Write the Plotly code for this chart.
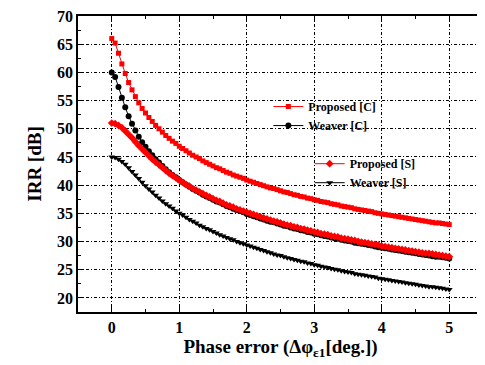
import plotly.graph_objects as go

phase_error = [round(i * 0.05, 2) for i in range(101)]

proposed_c = [66.0, 65.2, 63.4, 61.5, 59.8, 58.2, 56.9, 55.7, 54.6, 53.6,
              52.8, 52.0, 51.3, 50.6, 50.0, 49.4, 48.8, 48.3, 47.8, 47.4,
              46.9, 46.5, 46.1, 45.7, 45.3, 45.0, 44.7, 44.3, 44.0, 43.7,
              43.4, 43.1, 42.9, 42.6, 42.3, 42.1, 41.8, 41.6, 41.4, 41.2,
              40.9, 40.7, 40.5, 40.3, 40.1, 39.9, 39.7, 39.5, 39.4, 39.2,
              39.0, 38.8, 38.7, 38.5, 38.3, 38.2, 38.0, 37.9, 37.7, 37.6,
              37.4, 37.3, 37.1, 37.0, 36.9, 36.7, 36.6, 36.5, 36.3, 36.2,
              36.1, 36.0, 35.8, 35.7, 35.6, 35.5, 35.4, 35.3, 35.1, 35.0,
              34.9, 34.8, 34.7, 34.6, 34.5, 34.4, 34.3, 34.2, 34.1, 34.0,
              33.9, 33.8, 33.7, 33.6, 33.5, 33.4, 33.3, 33.3, 33.2, 33.1,
              33.0]

weaver_c = [60.0, 59.2, 57.4, 55.5, 53.8, 52.2, 50.9, 49.7, 48.6, 47.6,
            46.8, 46.0, 45.3, 44.6, 44.0, 43.4, 42.8, 42.3, 41.8, 41.4,
            40.9, 40.5, 40.1, 39.7, 39.3, 39.0, 38.7, 38.3, 38.0, 37.7,
            37.4, 37.1, 36.9, 36.6, 36.3, 36.1, 35.8, 35.6, 35.4, 35.2,
            34.9, 34.7, 34.5, 34.3, 34.1, 33.9, 33.7, 33.5, 33.4, 33.2,
            33.0, 32.8, 32.7, 32.5, 32.3, 32.2, 32.0, 31.9, 31.7, 31.6,
            31.4, 31.3, 31.1, 31.0, 30.9, 30.7, 30.6, 30.5, 30.3, 30.2,
            30.1, 30.0, 29.8, 29.7, 29.6, 29.5, 29.4, 29.3, 29.1, 29.0,
            28.9, 28.8, 28.7, 28.6, 28.5, 28.4, 28.3, 28.2, 28.1, 28.0,
            27.9, 27.8, 27.7, 27.6, 27.5, 27.4, 27.3, 27.3, 27.2, 27.1,
            27.0]

proposed_s = [51.0, 50.9, 50.6, 50.2, 49.6, 49.0, 48.4, 47.7, 47.0, 46.4,
              45.8, 45.2, 44.6, 44.1, 43.6, 43.1, 42.6, 42.1, 41.7, 41.3,
              40.9, 40.5, 40.1, 39.8, 39.4, 39.1, 38.8, 38.5, 38.2, 37.9,
              37.6, 37.3, 37.1, 36.8, 36.5, 36.3, 36.1, 35.8, 35.6, 35.4,
              35.2, 35.0, 34.8, 34.6, 34.4, 34.2, 34.0, 33.8, 33.6, 33.5,
              33.3, 33.1, 32.9, 32.8, 32.6, 32.5, 32.3, 32.2, 32.0, 31.9,
              31.7, 31.6, 31.4, 31.3, 31.2, 31.0, 30.9, 30.8, 30.6, 30.5,
              30.4, 30.3, 30.2, 30.0, 29.9, 29.8, 29.7, 29.6, 29.5, 29.4,
              29.2, 29.1, 29.0, 28.9, 28.8, 28.7, 28.6, 28.5, 28.4, 28.3,
              28.2, 28.1, 28.0, 27.9, 27.9, 27.8, 27.7, 27.6, 27.5, 27.4,
              27.3]

weaver_s = [45.0, 44.9, 44.6, 44.2, 43.7, 43.1, 42.4, 41.8, 41.2, 40.5,
            39.9, 39.3, 38.8, 38.2, 37.7, 37.2, 36.7, 36.3, 35.9, 35.4,
            35.0, 34.7, 34.3, 33.9, 33.6, 33.3, 32.9, 32.6, 32.3, 32.1,
            31.8, 31.5, 31.2, 31.0, 30.7, 30.5, 30.3, 30.0, 29.8, 29.6,
            29.4, 29.2, 29.0, 28.8, 28.6, 28.4, 28.2, 28.0, 27.8, 27.6,
            27.5, 27.3, 27.1, 27.0, 26.8, 26.7, 26.5, 26.4, 26.2, 26.1,
            25.9, 25.8, 25.6, 25.5, 25.4, 25.2, 25.1, 25.0, 24.8, 24.7,
            24.6, 24.5, 24.3, 24.2, 24.1, 24.0, 23.9, 23.8, 23.7, 23.5,
            23.4, 23.3, 23.2, 23.1, 23.0, 22.9, 22.8, 22.7, 22.6, 22.5,
            22.4, 22.3, 22.2, 22.1, 22.0, 22.0, 21.9, 21.8, 21.7, 21.6,
            21.5]

x_ticks = [0, 1, 2, 3, 4, 5]
y_ticks = [20, 25, 30, 35, 40, 45, 50, 55, 60, 65, 70]

FONT = "Liberation Serif, Times New Roman, serif"
RED = "#ff0000"
BLACK = "#000000"

fig = go.Figure()
fig.add_trace(go.Scatter(
    x=phase_error, y=proposed_c, name="<b>Proposed [C]</b>", mode="lines+markers",
    line=dict(color=RED, width=1), marker=dict(symbol="square", size=5, color=RED),
    legend="legend"))
fig.add_trace(go.Scatter(
    x=phase_error, y=weaver_c, name="<b>Weaver [C]</b>", mode="lines+markers",
    line=dict(color=BLACK, width=1), marker=dict(symbol="circle", size=6, color=BLACK),
    legend="legend"))
fig.add_trace(go.Scatter(
    x=phase_error, y=proposed_s, name="<b>Proposed [S]</b>", mode="lines+markers",
    line=dict(color=RED, width=1), marker=dict(symbol="diamond", size=6, color=RED),
    legend="legend2"))
fig.add_trace(go.Scatter(
    x=phase_error, y=weaver_s, name="<b>Weaver [S]</b>", mode="lines+markers",
    line=dict(color=BLACK, width=1), marker=dict(symbol="triangle-down", size=6, color=BLACK),
    legend="legend2"))

axis_common = dict(
    showline=True, linecolor="black", linewidth=1.5, mirror="ticks",
    ticks="inside", ticklen=5, tickwidth=1, tickcolor="black",
    showgrid=True, gridcolor="black", gridwidth=1, griddash="3px,2px,1px,2px",
    zeroline=False, ticklabeloverflow="allow",
    tickfont=dict(family=FONT, size=16, color="black"),
    title_font=dict(family=FONT, size=19, color="black"),
    minor=dict(ticks="inside", ticklen=3, tickcolor="black", showgrid=False),
)

fig.update_xaxes(
    range=[-0.5, 5.5], tickmode="array", tickvals=x_ticks,
    ticktext=[f"<b>{v}</b>" for v in x_ticks],
    title_text="<b>Phase error (Δφ<sub>ε1</sub>[deg.])</b>", title_standoff=5,
    **axis_common)
fig.update_xaxes(minor_dtick=0.5, minor_tick0=0.5)
fig.update_yaxes(
    range=[17.5, 70], tickmode="array", tickvals=y_ticks,
    ticktext=[f"<b>{v}</b>" for v in y_ticks],
    title_text="<b>IRR [dB]</b>", title_standoff=10,
    **axis_common)
fig.update_yaxes(minor_dtick=2.5, minor_tick0=17.5)

legend_font = dict(family=FONT, size=12, color="black")
fig.update_layout(
    width=477, height=357,
    margin=dict(l=70, r=0, t=4, b=53),
    font=dict(family=FONT, color="black"),
    plot_bgcolor="white", paper_bgcolor="white",
    legend=dict(x=0.47, y=0.743, xanchor="left", yanchor="top",
                bgcolor="rgba(0,0,0,0)", font=legend_font, itemwidth=30,
                tracegroupgap=0),
    legend2=dict(x=0.572, y=0.55, xanchor="left", yanchor="top",
                 bgcolor="rgba(0,0,0,0)", font=legend_font, itemwidth=30,
                 tracegroupgap=0),
)

fig.write_html("out.html")
